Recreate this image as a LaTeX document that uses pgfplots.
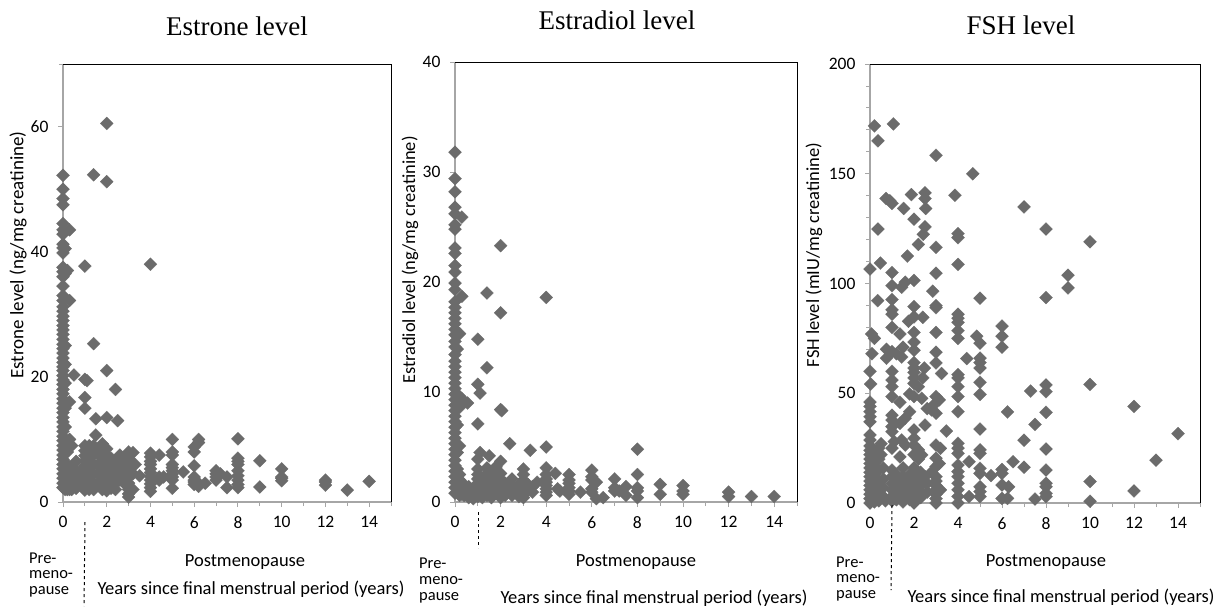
\documentclass[border=0pt]{standalone}
\usepackage{fontspec}
\setmainfont{Carlito}
\newfontfamily\titlefont{Liberation Serif}
\usepackage{pgfplots}
\pgfplotsset{compat=1.18}
\definecolor{pts}{HTML}{6B6B6B}
\definecolor{axgray}{HTML}{A6A6A6}

% 1 px of the reference = 1pt here
\pgfplotsset{
  panel/.style={
    scale only axis,
    axis lines=left,
    axis line style={-,draw=none},
    clip=false,
    xmin=0,xmax=15,
    xtick={0,2,...,14},
    minor xtick={1,3,...,15},
    tick align=outside,
    major tick length=5pt,
    minor tick length=4pt,
    every tick/.style={axgray,line width=0.9pt},
    tick label style={font=\fontsize{17.5}{20}\selectfont,black},
    /pgf/number format/assume math mode=true,
    x tick label style={yshift=-6pt},
    y tick label style={xshift=-6pt},
  },
  dia/.style={
    only marks,
    mark=square*,
    mark size=4.6pt,
    mark options={rotate=45,fill=pts,draw=pts,line width=0.2pt},
  },
}
% gray left and bottom go under the marks, black top and right
\newcommand{\boxlb}{\draw[axgray,line width=1.8pt] (rel axis cs:0,1)--(rel axis cs:0,0)--(rel axis cs:1,0);}
\newcommand{\boxtr}{\draw[black,line width=1pt] (rel axis cs:0,1)--(rel axis cs:1,1)--(rel axis cs:1,0);}

\begin{document}
\begin{tikzpicture}
\useasboundingbox (0pt,0pt) rectangle (1225pt,-608pt);

% Estrone
\begin{axis}[panel,at={(63pt,-502pt)},anchor=origin,width=328pt,height=438pt,
  ymin=0,ymax=70,ytick={0,20,40,60},minor ytick={70}]
\boxlb
\boxtr
\addplot[dia] coordinates {
 (2,60.5)(1.4,52.3)(2,51.2)(1,37.7)(4,38)(1.4,25.3)(2,21)(0.5,20.3)(1,19.6)(1.1,19.4)(2.4,18)
 (1,16.7)(1,15)(0.3,16)(1.5,13.3)(2,13.5)(2.5,13)(1.5,10.7)(0.3,10)(0.4,9)(0.3,43.5)(0.2,37)(0.3,32.2)(0.1,36.5)
 (0,52.2)(0,50)(0,48.5)(0,47.5)(0,44.5)(0,43.5)(0,42.8)(0,41.2)(0,40.6)(0.1,40.5)(0,39.8)(0,37.5)(0,36.8)(0,36)(0,34.5)
 (0,33)(0,32.2)(0,31.2)(0,30.5)(0,29.7)(0,29)(0,28.2)(0,27.5)(0,26.8)(0,26)(0,25.2)(0,24.5)(0,23.8)(0,23)(0,22.3)(0,21.6)(0,21)
 (0,20.2)(0,19.5)(0,18.8)(0,18)(0,17.3)(0,16.5)(0,15.8)(0,15)(0,14.3)(0,13.5)(0,12.8)(0,12)(0,11.3)(0,10.5)(0,9.8)(0,9)(0,8.3)
 (0,7.5)(0,6.8)(0,6)(0,5.3)(0,4.5)(0,3.8)(0,3)(0,2.3)(0.1,25)(0.1,22)(0.1,19)(0.1,15)(0.1,12)(0.1,10)(0.1,8)(0.1,6)(0.1,4)(0.1,2)
 (0.2,8)(0.2,6)(0.2,5)(0.2,4)(0.2,3)(0.2,2)(0.3,5)(0.3,4)(0.3,3)(0.3,2)(0.4,5.5)(0.4,4)(0.4,2.8)(0.4,2)(0.6,6.5)(0.6,5)(0.6,4)(0.6,3)(0.6,2.2)(0.8,5)(0.8,4)(0.8,3.2)
 (1,9)(1,8.2)(1,7.4)(1,6.6)(1,5.8)(1,5)(1,4.2)(1,3.4)(1,2.6)(1,1.9)(1.2,9)(1.2,8)(1.2,6.5)(1.2,5)(1.2,3.5)(1.2,2)
 (1.4,9)(1.4,7.5)(1.4,6)(1.4,4.5)(1.4,3)(1.4,2)(1.6,8)(1.6,6)(1.6,4.5)(1.6,3)(1.8,9.3)(1.8,7)(1.8,5)(1.8,3.5)(1.8,2)
 (2,8.5)(2,7.5)(2,6.5)(2,5.5)(2,4.5)(2,3.5)(2,2.5)(2,1.8)(2.2,7)(2.2,5)(2.2,3.5)(2.2,2.2)(2.4,6)(2.4,4.5)(2.4,3)(2.4,2)
 (2.6,7.5)(2.6,6.5)(2.6,5)(2.6,3.5)(2.8,5.5)(2.8,4)(2.8,3)
 (3,8)(3,7)(3,6)(3,5)(3,4)(3,3)(3,2)(3,1.3)(3,0.8)(3.2,7.9)(3.2,6)(3.2,4.5)(3.2,2)(3.3,6)(3.5,4.2)
 (4,7.8)(4,7.2)(4,6.5)(4,6)(4,5.3)(4,4.7)(4,4.1)(4,3.5)(4,2.9)(4,2.3)(4,1.7)(4.4,3.5)(4.4,4)(4.4,7.5)(4.6,4)
 (5,2.2)(5,3.5)(5,4)(5,4.5)(5,5)(5,5.5)(5,6)(5,7.5)(5,8)(5,10)(5.5,4.8)
 (6,2.8)(6,3.2)(6,3.5)(6,4)(6,5.8)(6,8)(6,8.8)(6.2,9.5)(6.2,10)(6.2,2.5)(6.2,3)(6.5,3)
 (7,3.5)(7,4)(7,4.5)(7,5)(7.2,4.5)(7.5,2.3)(7.5,4)
 (8,2.3)(8,2.8)(8,3.5)(8,4.2)(8,5)(8,6)(8,6.5)(8,7)(8,10.1)
 (9,2.4)(9,6.6)(10,3.4)(10,3.8)(10,4)(10,5.3)(12,2.7)(12,3.2)(12,3.5)(13,1.9)(14,3.3)
};
\end{axis}

% Estradiol
\begin{axis}[panel,at={(455pt,-502pt)},anchor=origin,width=342pt,height=440pt,
  ymin=0,ymax=40,ytick={0,10,20,30,40}]
\boxlb
\boxtr
\addplot[dia] coordinates {
 (2,23.3)(1.4,19)(4,18.6)(2,17.2)(1,14.8)(1.4,12.2)(1,10.7)(1.1,9.9)(0.55,9)(2,8.4)(2.05,8.3)(1,7.1)(2.4,5.3)(3.3,4.7)(4,5)(8,4.8)
 (1.1,4.5)(1.5,4.2)(1,3.9)(2,3.7)(1.8,3.2)(1,3)(1.4,3.1)(3,3)(3,2.5)(4,3.1)(4,2.5)(4,2.1)(4,1.8)(4.4,2.6)
 (0,31.8)(0,29.4)(0,28.2)(0,26.8)(0,26.2)(0.3,25.9)(0,25.2)(0,24.8)(0,23.1)(0,22.6)(0,21.5)(0,20.9)(0,19.9)(0,19.3)(0.3,18.7)(0,18.2)
 (0,17.7)(0,17.2)(0,16.7)(0,16.2)(0,15.7)(0,15.2)(0.2,15.3)(0,14.6)(0,14.1)(0.1,13.9)(0,13.4)(0,12.8)(0,12.3)(0,11.8)(0,11.3)(0,10.8)(0,10.3)(0,9.8)(0,9.3)
 (0,8.8)(0,8.3)(0,7.8)(0,7.3)(0,6.8)(0,6.3)(0,5.8)(0,5.3)(0,4.8)(0,4.3)(0,3.8)(0,3.3)(0,2.8)(0,2.3)(0,1.8)(0,1.3)(0,0.8)
 (0.2,9.6)(0.2,9.2)(0.2,8.6)(0.3,9.4)(0.1,7)(0.1,5.2)(0.2,5.1)(0.1,4.5)(0.1,3)(0.2,2.5)(0.2,2)(0.2,1.5)(0.2,1)(0.2,0.6)(0.3,1.8)(0.3,1.2)(0.3,0.7)(0.4,1.5)(0.4,1)(0.4,0.6)
 (0.6,1.4)(0.6,0.9)(0.6,0.4)(0.8,1.2)(0.8,0.7)(0.8,0.3)
 (1,2.5)(1,2.1)(1,1.7)(1,1.3)(1,0.9)(1,0.5)(1.2,2)(1.2,1.4)(1.2,0.8)(1.2,0.4)(1.4,2.6)(1.4,1.8)(1.4,1.2)(1.4,0.6)
 (1.6,2.4)(1.6,1.6)(1.6,1)(1.6,0.4)(1.8,2.8)(1.8,2)(1.8,1.4)(1.8,0.8)(2,2.6)(2,2.1)(2,1.6)(2,1.2)(2,0.8)(2,0.4)(2.2,1.7)(2.2,1.1)(2.2,0.6)
 (2.5,2.1)(2.5,1.5)(2.5,1)(2.5,0.6)(2.8,1.6)(2.8,1)(2.8,0.5)(3,2)(3,1.6)(3,1.2)(3,0.8)(3,0.4)(3.2,1.6)(3.2,1)(3.4,1.4)(3.4,0.9)(3.6,1.8)
 (4,1.5)(4,1.2)(4,0.9)(4,0.6)(4.5,1.2)(4.6,1)(5,2.5)(5,2)(5,1.7)(5,1.3)(5,1)(5,0.7)(5.5,0.9)
 (6,2.9)(6,2.3)(6,2)(6.2,1.8)(6,1.2)(6,0.9)(6.5,0.4)(6.2,0.3)(7,2.1)(7,1.3)(7,1)(7.5,1.4)(7.2,1)(7.5,0.6)
 (8,2.5)(8,1.3)(8,1)(8,0.4)(9,1.6)(9,0.7)(10,1.5)(10,1)(10,0.7)(12,0.9)(12,0.5)(13,0.5)(14,0.5)
};
\end{axis}

% FSH
\begin{axis}[panel,at={(870pt,-503pt)},anchor=origin,width=330pt,height=439pt,
  ymin=0,ymax=200,ytick={0,50,100,150,200},minor ytick={10,20,30,40,60,70,80,90,110,120,130,140,160,170,180,190}]
\boxlb
\boxtr
\addplot[dia] coordinates {
 (0.2,171.8)(1.06,172.7)(0.36,165)(3,158.4)(4.67,150)(0.73,138.7)(0.9,137.7)(1,136.5)(1.53,134.2)(1.88,140.5)(2.5,141.3)(2.5,138.7)(2.53,134.2)
 (2,129.3)(3.86,140.2)(7,134.9)(8,124.8)(10,119)(0.36,124.8)(2.5,125.8)(2.42,122.4)(2.2,117.8)(3,116.5)(4,122.7)(4,120.9)(1.7,112.5)(4,108.7)
 (0.47,109.3)(0,106.6)(1,105)(3,104.7)(9,103.8)(9,98)(1,99)(1.44,98.3)(1.6,100.6)(2,101.4)(2.85,96.5)(5,93.3)(8,93.6)(0.35,92.2)(1,92.7)
 (3,89.9)(3,89)(2,89.5)(1,88)(1,86)(2.4,84.6)(2,84.8)(1.75,82.8)(4,86)(4,84.2)(4,82.3)(6,80.6)(1,80)(3,77.7)(4,78.5)(2,77.7)(1.36,77)
 (0.07,77)(0.2,75)(4,75)(4.85,76)(5,72.8)(6,76)(6,71)(2,73.3)(1.5,71)(2,69.6)(3,68.7)(3,63.8)(0.75,70)(1,69)(1.2,68)(1.44,66.5)(0.75,66)
 (0.09,68)(4.4,65.8)(5,66)(5,64)(5,61.5)(2,64)(2,61.5)(0,60)(1,60)(2.47,61.5)(2,59.5)(3.25,59)(1,56)(2,57)(4,58.5)(4,57)(5,55)(2.4,57)
 (0.03,54.2)(1,53)(1,48.5)(2,54.5)(2.2,53)(4,53)(4,48.5)(5,49.5)(7.3,51)(8,53.8)(8,50.7)(6.25,41.5)(8,41.3)(7.5,35.8)(5,33.7)(7,28.6)(8,24.6)(5,24.2)(5,22.6)
 (3.47,32.8)(4,41.6)(1.36,45.9)(1.8,49.7)(2,48.5)(2.35,47.7)(2.8,42.4)(3,48.5)(3.15,47)(2.9,44.7)(3,40.9)(2.6,43)(1.8,41.6)(1.6,38.6)(1.36,36.3)(2.5,35.5)(2,33.3)
 (1,40)(1,37.8)(1,34.8)(1,32.5)(0,46)(0,44)(0,41.6)(0,39.3)(0,37)(0,31)(0,28.7)(3,26.4)(3.2,24.9)(2,29.5)(2,26.4)(2.2,24.2)(2.35,21.9)(1.1,28)(1.44,28.7)(1,25)(1.36,21)(1.6,26.4)
 (3,20.4)(3,16.6)(3.15,18)(4,27.2)(4,25)(4,22.6)(4,17.3)(4,14.3)(4,12)(4,9)(4,6)(4,3)(4,0)(4.5,18.8)(5,15.8)(5,13.5)(5.5,12.5)(5,7.4)(5,5.2)(5,2.9)(4.5,2.9)
 (6,15.3)(6,13.5)(6.5,18.8)(6,8.2)(6.3,7.4)(6,2.1)(6.25,2.1)(7,16.3)(7.5,1.8)(8,15)(8,9)(8,7.4)(8,4.4)(8,2.9)(10,54)(12,44)(14,31.6)(13,19.5)(10,9.8)(10,0.8)(12,5.5)
 (0,26)(0,24)(0,22)(0,20)(0,18)(0,16)(0,14)(0,12)(0,10)(0,8)(0,6)(0,4)(0,2)(0,0)(0.2,23)(0.2,18)(0.2,13)(0.2,8)(0.2,4)(0.2,0.5)(0.4,25)(0.4,20)(0.4,15)(0.4,10)(0.4,5)(0.4,1)(0.6,16)(0.6,11)(0.6,7)(0.6,3)(0.7,1)
 (0.5,22)(0.5,27)(1,15)(1,12)(1,9)(1,6)(1,3)(1,1)(1.2,13)(1.2,10)(1.2,7)(1.2,4)(1.2,1.5)(1.5,16)(1.5,12)(1.5,9)(1.5,6)(1.5,3)(1.5,0.5)(1.8,13)(1.8,10)(1.8,7)(1.8,4)(1.8,1.5)
 (2,16)(2,13)(2,11)(2,9)(2,7)(2,5)(2,3)(2,1)(2,0)(2.3,14)(2.3,11)(2.3,8)(2.3,5)(2.3,2.5)(2.5,12)(2.6,9)(2.6,5)(2.8,14)(3,12)(3,10)(3,8)(3,6)(3,4)(3,2)(3,0)(3.2,6)(2,22)(2.2,20)
};
\end{axis}

\begin{scope}[x=1pt,y=-1pt,every node/.style={font=\fontsize{18.5}{20}\selectfont,inner sep=0pt},
  pm/.style={anchor=west,font=\fontsize{16.5}{18}\selectfont}]
% titles
\node[font=\titlefont\fontsize{27}{30}\selectfont] at (237,26) {Estrone level};
\node[font=\titlefont\fontsize{27}{30}\selectfont] at (617,20) {Estradiol level};
\node[font=\titlefont\fontsize{27}{30}\selectfont] at (1021,25) {FSH level};
% y labels
\node[rotate=90,font=\fontsize{19}{20}\selectfont] at (18,255) {Estrone level (ng/mg creatinine)};
\node[rotate=90,font=\fontsize{18.4}{20}\selectfont] at (410,260) {Estradiol level (ng/mg creatinine)};
\node[rotate=90,font=\fontsize{18.5}{20}\selectfont] at (814,255) {FSH level (mIU/mg creatinine)};
% under the axes
\node[pm] at (29,558) {Pre-};
\node[pm] at (29,575) {meno-};
\node[pm] at (29,592) {pause};
\node at (245,562) {Postmenopause};
\node at (251,589) {Years since final menstrual period (years)};
\draw[dashed,black,line width=1pt] (85,522)--(84,606);
\node[pm] at (419,563) {Pre-};
\node[pm] at (419,581) {meno-};
\node[pm] at (419,598) {pause};
\node at (636,562) {Postmenopause};
\node at (654,598) {Years since final menstrual period (years)};
\draw[dashed,black,line width=1pt] (478,512)--(478,548);
\node[pm] at (836,562) {Pre-};
\node[pm] at (836,579) {meno-};
\node[pm] at (836,596) {pause};
\node at (1046,562) {Postmenopause};
\node at (1061,597) {Years since final menstrual period (years)};
\draw[dashed,black,line width=1pt] (892,505)--(891,590);
\end{scope}
\end{tikzpicture}
\end{document}
